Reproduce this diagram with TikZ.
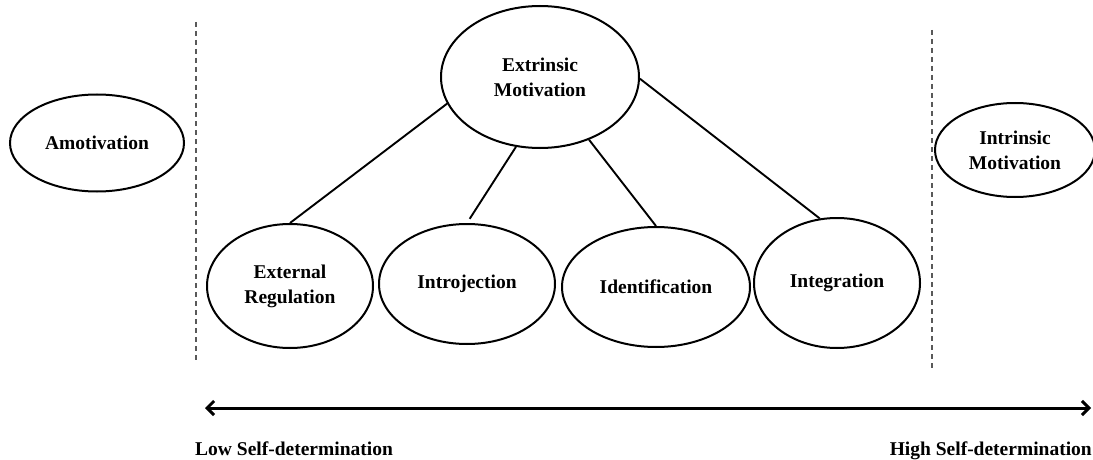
\documentclass[tikz,border=0pt]{standalone}
\usepackage{fontspec}
\setmainfont{Liberation Serif}
\usetikzlibrary{shapes.geometric,arrows.meta}
\begin{document}
\begin{tikzpicture}[x=1pt,y=-1pt,
  oval/.style={draw,ellipse,line width=2pt,inner sep=0pt,align=center,
    font=\fontsize{19.5}{25}\selectfont\bfseries},
  link/.style={line width=1.9pt},
  divider/.style={dashed,dash pattern=on 5pt off 4pt,line width=1.3pt,draw=black!65},
  sdaxis/.style={line width=3pt,{Straight Barb[length=7pt,width=14pt]}-{Straight Barb[length=7pt,width=14pt]}},
  caption/.style={font=\fontsize{19.5}{25}\selectfont\bfseries,inner sep=0pt}]
\useasboundingbox (0,0) rectangle (1093,460);
\clip (0,0) rectangle (1093,460);
\fill[white] (0,0) rectangle (1093,460);

\node[oval,minimum width=174pt,minimum height=97pt] (amo) at (97,143) {Amotivation};
\node[oval,minimum width=198pt,minimum height=142pt] (ext) at (540,77) {Extrinsic\\Motivation};
\node[oval,minimum width=160pt,minimum height=94pt] (intr) at (1015,150) {Intrinsic\\Motivation};
\node[oval,minimum width=166pt,minimum height=124pt] (er) at (290,286) {External\\Regulation};
\node[oval,minimum width=176pt,minimum height=120pt] (ij) at (467,284) {Introjection};
\node[oval,minimum width=188pt,minimum height=120pt] (id) at (656,287) {Identification};
\node[oval,minimum width=166pt,minimum height=130pt] (ig) at (837,283) {Integration};

\draw[link] (ext.196) -- (er.north);
\draw[link,shorten >=5pt] (ext.251) -- (ij.north);
\draw[link] (ext.308) -- (id.north);
\draw[link] (ext.359) -- (ig.105);

\coordinate (dl1) at (196,22);
\coordinate (dl2) at (196,360);
\coordinate (dr1) at (932,30);
\coordinate (dr2) at (932,370);
\draw[divider] (dl1) -- (dl2);
\draw[divider] (dr1) -- (dr2);

\coordinate (aL) at (205,408);
\coordinate (aR) at (1091,408);
\draw[sdaxis] (aL) -- (aR);

\node[caption,anchor=base west] (low) at (195,455) {Low Self-determination};
\node[caption,anchor=base east] (high) at (1092,455) {High Self-determination};
\end{tikzpicture}
\end{document}
